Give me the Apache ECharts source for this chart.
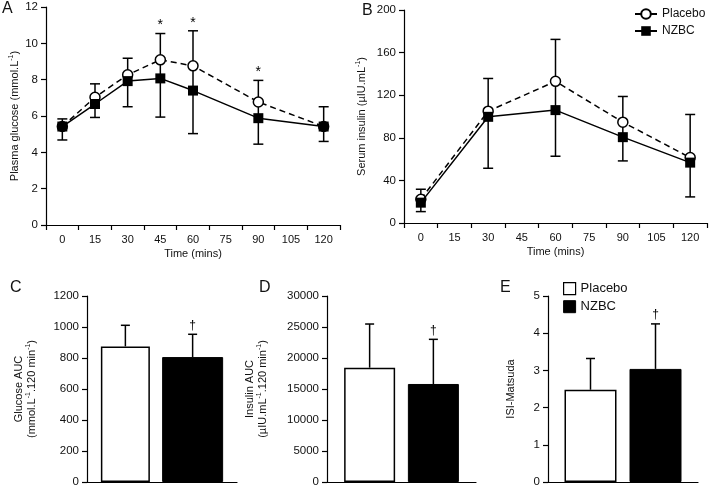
<!DOCTYPE html>
<html><head><meta charset="utf-8">
<script src="https://cdn.jsdelivr.net/npm/echarts@6/dist/echarts.min.js"></script>
<style>html,body{margin:0;padding:0;background:#fff}#c{width:709px;height:488px}</style>
</head><body><div id="c"></div>
<script>
// ---------- data ----------
const timeCats = ['0', '15', '30', '45', '60', '75', '90', '105', '120'];
const glucosePlacebo = [5.42, 7.03, 8.27, 9.09, 8.76, '-', 6.77, '-', 5.42];
const glucoseNZBC    = [5.42, 6.66, 7.92, 8.07, 7.40, '-', 5.88, '-', 5.42];
const glucoseErrHigh = [5.84, 7.77, 9.18, 10.54, 10.69, '-', 7.96, '-', 6.51];
const glucoseErrLow  = [4.68, 5.92, 6.51, 5.94, 5.03, '-', 4.45, '-', 4.60];
const glucoseSig     = ['', '', '', '*', '*', '', '*', '', ''];
const insulinPlacebo = [22.3, '-', 105, '-', 133, '-', 94.7, '-', 61.4];
const insulinNZBC    = [19.1, '-', 99.7, '-', 106, '-', 80.6, '-', 56.7];
const insulinErrHigh = [31.7, '-', 135.7, '-', 172.4, '-', 118.8, '-', 101.9];
const insulinErrLow  = [10.7, '-', 51.4, '-', 62.7, '-', 58.3, '-', 24.5];
const insulinSig     = ['', '', '', '', '', '', '', '', ''];
const groups = ['Placebo', 'NZBC'];
const glucoseAUC = [875, 806];
const glucoseAUCErr = [1011, 953];
const insulinAUC = [18440, 15810];
const insulinAUCErr = [25480, 23010];
const isiMatsuda = [2.48, 3.04];
const isiMatsudaErr = [3.32, 4.25];
const aucSig = ['', '\u2020'];

// ---------- helpers ----------
const FONT = 'Liberation Sans, Arial, sans-serif';
const INK = '#111';
const axisLine = {show: true, onZero: false, lineStyle: {color: '#000', width: 1.2}};
const axisTick = {show: true, inside: false, length: 5, lineStyle: {color: '#000', width: 1.2}};
const labelStyle = {color: INK, fontSize: 11, fontFamily: FONT};

function yAxis(grid, min, max, interval, name, gap) {
  return {
    type: 'value', gridIndex: grid, min, max, interval,
    axisLine, axisTick, splitLine: {show: false},
    axisLabel: Object.assign({margin: 8, formatter: v => String(v)}, labelStyle, {fontSize: 11.5}),
    name, nameLocation: 'middle', nameRotate: 90, nameGap: gap,
    nameTextStyle: {color: INK, fontSize: 11, fontFamily: FONT, lineHeight: 13,
      rich: {a: {fontSize: 11, fontFamily: FONT, color: INK},
             s: {fontSize: 7, fontFamily: FONT, color: INK, verticalAlign: 'top', padding: [0, 0, 4, 0]}}}
  };
}
function timeAxis(grid) {
  return {
    type: 'category', gridIndex: grid, data: timeCats, boundaryGap: true,
    axisLine, axisTick: Object.assign({alignWithLabel: false}, axisTick),
    axisLabel: Object.assign({margin: 9, interval: 0}, labelStyle),
    name: 'Time (mins)', nameLocation: 'middle', nameGap: 23,
    nameTextStyle: {color: INK, fontSize: 11, fontFamily: FONT}
  };
}
function barAxis(grid) {
  return {type: 'category', gridIndex: grid, data: [''], axisLine,
          axisTick: {show: false}, axisLabel: {show: false}};
}
function errData(high, low) {
  const d = [];
  high.forEach((h, i) => { if (h !== '-') d.push([i, h, low[i]]); });
  return d;
}
function lineErrSeries(idx, high, low, sig) {
  return {
    type: 'custom', xAxisIndex: idx, yAxisIndex: idx, z: 1, silent: true,
    data: errData(high, low),
    renderItem(params, api) {
      const i = api.value(0);
      const top = api.coord([i, api.value(1)]);
      const bot = api.coord([i, api.value(2)]);
      const cw = 5;
      const st = {stroke: '#000', lineWidth: 1.5, fill: null};
      const ch = [
        {type: 'line', shape: {x1: top[0], y1: top[1], x2: bot[0], y2: bot[1]}, style: st},
        {type: 'line', shape: {x1: top[0] - cw, y1: top[1], x2: top[0] + cw, y2: top[1]}, style: st},
        {type: 'line', shape: {x1: bot[0] - cw, y1: bot[1], x2: bot[0] + cw, y2: bot[1]}, style: st}
      ];
      if (sig[i]) ch.push({type: 'text', x: top[0], y: top[1] - 1,
        style: {text: sig[i], fill: '#000', font: '14px ' + FONT, align: 'center', verticalAlign: 'bottom'}});
      return {type: 'group', children: ch};
    }
  };
}
function barSeries(idx, values, widths, gapPct) {
  return [
    {type: 'bar', name: groups[0], xAxisIndex: idx, yAxisIndex: idx, data: [values[0]],
     barWidth: widths[0], itemStyle: {color: '#fff', borderColor: '#000', borderWidth: 1.5}, z: 2},
    {type: 'bar', name: groups[1], xAxisIndex: idx, yAxisIndex: idx, data: [values[1]],
     barWidth: widths[1], barGap: (gapPct * 100) + '%', itemStyle: {color: '#000', borderColor: '#000', borderWidth: 1}, z: 2}
  ];
}
function barErrSeries(idx, values, errs, widths, gapPct, sig) {
  const total = widths[0] * (1 + gapPct) + widths[1];
  const offsets = [-total / 2 + widths[0] / 2, -total / 2 + widths[0] * (1 + gapPct) + widths[1] / 2];
  return {
    type: 'custom', xAxisIndex: idx, yAxisIndex: idx, z: 3, silent: true,
    data: values.map((v, j) => [0, v, errs[j], j]),
    renderItem(params, api) {
      const j = api.value(3);
      const base = api.coord([0, api.value(1)]);
      const top = api.coord([0, api.value(2)]);
      const x = base[0] + offsets[j];
      const cw = 4.5;
      const st = {stroke: '#000', lineWidth: 1.5, fill: null};
      const ch = [
        {type: 'line', shape: {x1: x, y1: base[1], x2: x, y2: top[1]}, style: st},
        {type: 'line', shape: {x1: x - cw, y1: top[1], x2: x + cw, y2: top[1]}, style: st}
      ];
      if (sig[j]) ch.push({type: 'text', x: x, y: top[1] - 3,
        style: {text: sig[j], fill: '#000', font: '12px ' + FONT, align: 'center', verticalAlign: 'bottom'}});
      return {type: 'group', children: ch};
    }
  };
}
function lineSeries(idx, placebo, nzbc) {
  return [
    {type: 'line', name: groups[0], xAxisIndex: idx, yAxisIndex: idx, data: placebo, connectNulls: true,
     symbol: 'circle', symbolSize: 10, z: 3,
     lineStyle: {color: '#000', width: 1.5, type: [6, 4]},
     itemStyle: {color: '#fff', borderColor: '#000', borderWidth: 1.5}},
    {type: 'line', name: groups[1], xAxisIndex: idx, yAxisIndex: idx, data: nzbc, connectNulls: true,
     symbol: 'rect', symbolSize: 10, z: 4,
     lineStyle: {color: '#000', width: 1.5},
     itemStyle: {color: '#000'}}
  ];
}
const panelTitle = (t, l, tp) => ({text: t, left: l, top: tp, padding: 0,
  textStyle: {fontSize: 16, fontWeight: 'normal', color: INK, fontFamily: FONT}});

const option = {
  animation: false,
  textStyle: {fontFamily: FONT},
  title: [panelTitle('A', 2, 1), panelTitle('B', 362, 3), panelTitle('C', 10, 280),
          panelTitle('D', 259, 280), panelTitle('E', 500, 280)],
  legend: [
    {left: 634, top: 8, orient: 'vertical', padding: 0, itemGap: 5, itemWidth: 22, itemHeight: 12,
     textStyle: {fontSize: 12, color: INK, fontFamily: FONT}, selectedMode: false,
     data: [{name: 'Placebo', lineStyle: {type: 'solid'}}, {name: 'NZBC'}]},
    {left: 563, top: 282, orient: 'vertical', padding: 0, itemGap: 5, itemWidth: 12, itemHeight: 12,
     textStyle: {fontSize: 13, color: INK, fontFamily: FONT}, selectedMode: false,
     data: [{name: 'Placebo', icon: 'rect', itemStyle: {color: '#fff', borderColor: '#000', borderWidth: 1.2}},
            {name: 'NZBC', icon: 'rect', itemStyle: {color: '#000', borderColor: '#000', borderWidth: 1}}]}
  ],
  grid: [
    {left: 46, top: 7, width: 294, height: 218},
    {left: 404, top: 10, width: 303, height: 213},
    {left: 87, top: 296, width: 150, height: 186},
    {left: 327, top: 296, width: 149, height: 186},
    {left: 548, top: 296, width: 150, height: 186}
  ],
  xAxis: [timeAxis(0), timeAxis(1), barAxis(2), barAxis(3), barAxis(4)],
  yAxis: [
    yAxis(0, 0, 12, 2, '{a|Plasma glucose (mmol.L}{s|-1}{a|)}', 25),
    yAxis(1, 0, 200, 40, '{a|Serum insulin (\u00b5IU.mL}{s|-1}{a|)}', 36),
    yAxis(2, 0, 1200, 200, '{a|Glucose AUC}\n{a|(mmol.L}{s|-1}{a|.120 min}{s|-1}{a|)}', 49),
    yAxis(3, 0, 30000, 5000, '{a|Insulin AUC}\n{a|(\u00b5IU.mL}{s|-1}{a|.120 min}{s|-1}{a|)}', 58),
    yAxis(4, 0, 5, 1, '{a|ISI-Matsuda}', 31)
  ],
  series: [
    ...lineSeries(0, glucosePlacebo, glucoseNZBC),
    ...lineSeries(1, insulinPlacebo, insulinNZBC),
    lineErrSeries(0, glucoseErrHigh, glucoseErrLow, glucoseSig),
    lineErrSeries(1, insulinErrHigh, insulinErrLow, insulinSig),
    ...barSeries(2, glucoseAUC, [49, 61], 0.25),
    ...barSeries(3, insulinAUC, [51, 51], 0.25),
    ...barSeries(4, isiMatsuda, [52, 52], 0.25),
    barErrSeries(2, glucoseAUC, glucoseAUCErr, [49, 61], 0.25, aucSig),
    barErrSeries(3, insulinAUC, insulinAUCErr, [51, 51], 0.25, aucSig),
    barErrSeries(4, isiMatsuda, isiMatsudaErr, [52, 52], 0.25, aucSig)
  ]
};
const chart = echarts.init(document.getElementById('c'), null, {renderer: 'canvas'});
chart.setOption(option);
</script>
</body></html>
